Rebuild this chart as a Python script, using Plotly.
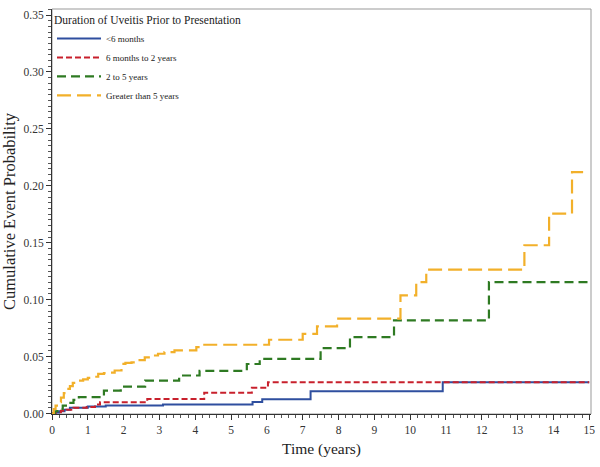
import plotly.graph_objects as go

# ---- data ----
series_names = ["<6 months", "6 months to 2 years", "2 to 5 years", "Greater than 5 years"]

t_lt6m = [0, 0.1, 0.2, 0.35, 0.5, 1.0, 1.5, 3.1, 5.6, 5.87, 7.22, 10.91, 15.0]
p_lt6m = [0, 0.001, 0.002, 0.0033, 0.005, 0.0062, 0.007, 0.0079, 0.0101, 0.0125, 0.0196, 0.0275, 0.0275]

t_6m2y = [0, 0.1, 0.25, 0.4, 0.6, 0.97, 1.2, 1.34, 2.66, 4.25, 5.58, 6.03, 15.0]
p_6m2y = [0, 0.0012, 0.0025, 0.0033, 0.005, 0.0058, 0.0079, 0.0099, 0.0127, 0.0183, 0.0226, 0.0275, 0.0275]

t_2to5 = [0, 0.08, 0.15, 0.3, 0.48, 0.6, 0.75, 1.45, 1.92, 2.6, 3.55, 4.12, 5.44, 5.8, 7.5, 8.32, 9.55, 12.2, 15.0]
p_2to5 = [0, 0.002, 0.004, 0.007, 0.0094, 0.012, 0.0144, 0.0202, 0.0237, 0.029, 0.0334, 0.0375, 0.0435,
          0.0481, 0.0574, 0.0672, 0.0818, 0.1155, 0.1155]

t_gt5 = [0, 0.05, 0.1, 0.18, 0.25, 0.33, 0.41, 0.5, 0.58, 0.66, 0.87, 1.0, 1.2, 1.29, 1.45, 1.57, 1.75,
         1.94, 2.05, 2.22, 2.4, 2.59, 2.77, 2.96, 3.14, 3.42, 4.03, 4.22, 6.06, 7.0, 7.4, 7.96, 9.73,
         10.17, 10.45, 13.19, 13.88, 14.52, 14.83]
p_gt5 = [0, 0.004, 0.007, 0.0099, 0.014, 0.018, 0.0217, 0.024, 0.027, 0.029, 0.030, 0.0314, 0.0323,
         0.0349, 0.0355, 0.036, 0.0378, 0.0436, 0.0445, 0.045, 0.047, 0.0493, 0.051, 0.0525, 0.054,
         0.0554, 0.0583, 0.0604, 0.0648, 0.070, 0.0765, 0.0833, 0.1037, 0.1155, 0.1264, 0.1478,
         0.1755, 0.212, 0.212]

x_ticks = list(range(0, 16))
y_ticks = [0.0, 0.05, 0.10, 0.15, 0.20, 0.25, 0.30, 0.35]
y_tick_labels = ["0.00", "0.05", "0.10", "0.15", "0.20", "0.25", "0.30", "0.35"]

# ---- styles ----
styles = [
    dict(color="#2f4f9f", dash="solid", width=2),
    dict(color="#c8202c", dash="6px,3px", width=2),
    dict(color="#2e7a22", dash="9px,5px", width=2.2),
    dict(color="#f2b02a", dash="14px,6px", width=2.2),
]

FONT = "Liberation Serif, Times New Roman, serif"

fig = go.Figure()
for name, t, p, st in zip(series_names,
                          [t_lt6m, t_6m2y, t_2to5, t_gt5],
                          [p_lt6m, p_6m2y, p_2to5, p_gt5],
                          styles):
    fig.add_trace(go.Scatter(x=t, y=p, mode="lines", name=name, line_shape="hv", line=st))

fig.update_layout(
    width=600, height=467,
    margin=dict(l=52, r=9, t=9, b=53),
    paper_bgcolor="white", plot_bgcolor="white",
    font=dict(family=FONT, color="#222"),
    showlegend=True,
    legend=dict(
        x=0.0, y=1.0, xanchor="left", yanchor="top",
        bgcolor="rgba(0,0,0,0)",
        title=dict(text="Duration of Uveitis Prior to Presentation", font=dict(size=11.5, family=FONT, color="#222")),
        font=dict(size=9, family=FONT, color="#222"),
        itemwidth=44, tracegroupgap=0,
    ),
    xaxis=dict(
        range=[0, 15.05], tickvals=x_ticks, ticktext=[str(v) for v in x_ticks],
        showgrid=False, zeroline=False, showline=True, linecolor="#333", linewidth=1,
        mirror=False, ticks="outside", ticklen=5, tickcolor="#333", automargin=False,
        minor=dict(dtick=0.2, ticks="outside", ticklen=3, tickcolor="#555", showgrid=False),
        tickfont=dict(size=11.5, family=FONT, color="#333"),
        title=dict(text="Time (years)", font=dict(size=15.5, family=FONT, color="#222"), standoff=8),
    ),
    yaxis=dict(
        range=[-0.0004, 0.3553], tickvals=y_ticks, ticktext=y_tick_labels,
        showgrid=False, zeroline=False, showline=True, linecolor="#333", linewidth=1,
        mirror=False, ticks="outside", ticklen=5, tickcolor="#333", automargin=False,
        minor=dict(dtick=0.005, ticks="outside", ticklen=3, tickcolor="#555", showgrid=False),
        tickfont=dict(size=11.5, family=FONT, color="#333"),
        title=dict(text="Cumulative Event Probability", font=dict(size=16.5, family=FONT, color="#222"), standoff=6),
    ),
    shapes=[dict(type="rect", xref="paper", yref="paper", x0=0, y0=0, x1=1, y1=1,
                 line=dict(color="#999", width=1), layer="below")],
)

fig.write_html("out.html", config={"displayModeBar": False},
               post_script="document.body.style.margin='0';")
